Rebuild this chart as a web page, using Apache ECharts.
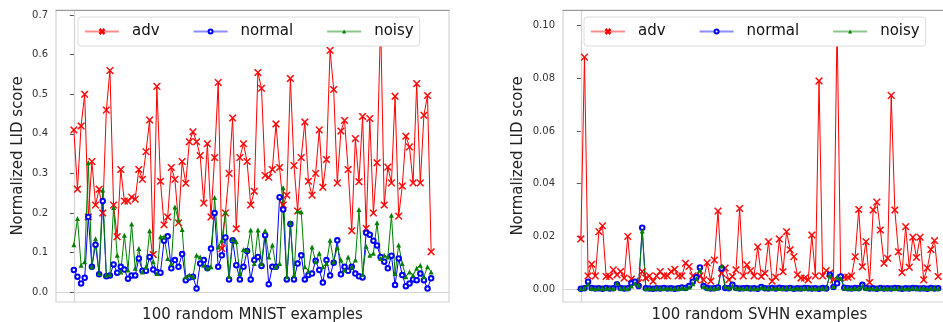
<!DOCTYPE html>
<html>
<head>
<meta charset="utf-8">
<script src="https://cdn.jsdelivr.net/npm/echarts@6/dist/echarts.min.js"></script>
<style>
  html, body { margin: 0; padding: 0; background: #fff; }
  #chart { width: 943px; height: 322px; }
</style>
</head>
<body>
<div id="chart"></div>
<script>
// LID scores for 100 random examples per dataset
const mnistAdv = [
  0.41, 0.26, 0.42, 0.50, 0.19, 0.33, 0.22, 0.26, 0.20, 0.46,
  0.56, 0.22, 0.14, 0.31, 0.23, 0.23, 0.24, 0.235, 0.31, 0.285,
  0.355, 0.435, 0.095, 0.52, 0.28, 0.17, 0.19, 0.315, 0.285, 0.175,
  0.33, 0.275, 0.38, 0.405, 0.38, 0.345, 0.225, 0.375, 0.19, 0.34,
  0.53, 0.11, 0.20, 0.30, 0.44, 0.16, 0.34, 0.375, 0.33, 0.22,
  0.255, 0.555, 0.515, 0.295, 0.29, 0.31, 0.425, 0.315, 0.22, 0.245,
  0.54, 0.32, 0.205, 0.34, 0.43, 0.28, 0.245, 0.30, 0.41, 0.265, 0.335,
  0.611, 0.512, 0.276, 0.407, 0.434, 0.31, 0.155, 0.388, 0.279, 0.444,
  0.161, 0.439, 0.2, 0.327, 0.683, 0.22, 0.316, 0.276, 0.495, 0.192,
  0.268, 0.394, 0.367, 0.276, 0.527, 0.276, 0.447, 0.497, 0.102
];
const mnistNormal = [
  0.056, 0.039, 0.022, 0.036, 0.19, 0.064, 0.12, 0.045, 0.23, 0.04,
  0.042, 0.07, 0.049, 0.064, 0.057, 0.034, 0.042, 0.042, 0.085, 0.054,
  0.054, 0.089, 0.057, 0.051, 0.049, 0.13, 0.141, 0.06, 0.081, 0.064,
  0.096, 0.03, 0.037, 0.039, 0.009, 0.072, 0.081, 0.06, 0.11, 0.2,
  0.064, 0.093, 0.138, 0.032, 0.131, 0.068, 0.032, 0.064, 0.104, 0.032,
  0.081, 0.089, 0.066, 0.144, 0.02, 0.064, 0.064, 0.24, 0.209, 0.032,
  0.172, 0.032, 0.072, 0.093, 0.032, 0.043, 0.047, 0.079, 0.056, 0.024,
  0.081, 0.042, 0.074, 0.131, 0.045, 0.064, 0.054, 0.064, 0.047, 0.04,
  0.037, 0.15, 0.145, 0.13, 0.118, 0.089, 0.077, 0.06, 0.092, 0.018,
  0.085, 0.043, 0.015, 0.022, 0.032, 0.03, 0.047, 0.03, 0.009, 0.035
];
const mnistNoisy = [
  0.12, 0.186, 0.068, 0.077, 0.327, 0.064, 0.135, 0.047, 0.258, 0.043,
  0.045, 0.214, 0.093, 0.051, 0.144, 0.056, 0.172, 0.06, 0.11, 0.051,
  0.064, 0.155, 0.077, 0.047, 0.14, 0.14, 0.085, 0.072, 0.215, 0.182,
  0.158, 0.039, 0.043, 0.039, 0.093, 0.089, 0.068, 0.06, 0.064, 0.239,
  0.114, 0.131, 0.202, 0.04, 0.133, 0.127, 0.047, 0.108, 0.106, 0.157,
  0.072, 0.157, 0.072, 0.155, 0.089, 0.119, 0.064, 0.072, 0.264, 0.039,
  0.175, 0.043, 0.205, 0.203, 0.064, 0.054, 0.114, 0.077, 0.098, 0.064,
  0.072, 0.131, 0.077, 0.113, 0.081, 0.056, 0.089, 0.064, 0.081, 0.209,
  0.045, 0.116, 0.093, 0.098, 0.175, 0.085, 0.093, 0.089, 0.194, 0.047,
  0.119, 0.072, 0.039, 0.051, 0.043, 0.06, 0.068, 0.039, 0.064, 0.051
];

const svhnAdv = [
  0.019, 0.088, 0.005, 0.0094, 0.005, 0.0218, 0.024, 0.0048, 0.0048, 0.0073,
  0.0054, 0.0067, 0.0042, 0.020, 0.0038, 0.003, 0.0025, 0.0067, 0.0042, 0.005,
  0.003, 0.005, 0.0067, 0.005, 0.005, 0.0067, 0.0075, 0.005, 0.005, 0.0098,
  0.0086, 0.005, 0.0035, 0.005, 0.0035, 0.010, 0.003, 0.011, 0.0296, 0.006,
  0.008, 0.0035, 0.0048, 0.0073, 0.0306, 0.005, 0.0092, 0.007, 0.005, 0.016,
  0.0048, 0.006, 0.018, 0.003, 0.0045, 0.019, 0.0066, 0.0218, 0.0149, 0.0123,
  0.0054, 0.0042, 0.0042, 0.0035, 0.0205, 0.005, 0.079, 0.005, 0.007, 0.006,
  0.0035, 0.101, 0.0042, 0.0045, 0.0045, 0.005, 0.0123, 0.0302, 0.0085, 0.018,
  0.0025, 0.030, 0.033, 0.0224, 0.0098, 0.0117, 0.0735, 0.030, 0.0142, 0.0063,
  0.0237, 0.0083, 0.0197, 0.012, 0.0197, 0.0035, 0.008, 0.015, 0.0184, 0.0048
];
const svhnNormal = [
  0.0001, 0.0003, 0.0028, 0.0004, 0.0002, 0.0003, 0.0001, 0.0004, 0.0002, 0.0003,
  0.0018, 0.0004, 0.0002, 0.0003, 0.0022, 0.0028, 0.0012, 0.0233, 0.0003, 0.0002,
  0.0001, 0.0003, 0.0002, 0.0004, 0.0002, 0.0003, 0.0001, 0.0003, 0.0006, 0.0004,
  0.0012, 0.0028, 0.0045, 0.0082, 0.0012, 0.0004, 0.0002, 0.0003, 0.0006, 0.0078,
  0.0004, 0.0003, 0.0016, 0.0004, 0.0002, 0.0003, 0.0004, 0.0002, 0.0003, 0.0001,
  0.0008, 0.0003, 0.0002, 0.0004, 0.0002, 0.0005, 0.0003, 0.0002, 0.0004, 0.0001,
  0.0003, 0.0002, 0.0004, 0.0003, 0.0002, 0.0003, 0.0001, 0.0004, 0.0002, 0.0054,
  0.0008, 0.0022, 0.0048, 0.0005, 0.0003, 0.0002, 0.0004, 0.0003, 0.0016, 0.0004,
  0.0002, 0.0003, 0.0001, 0.0004, 0.0002, 0.0003, 0.0002, 0.0004, 0.0003, 0.0001,
  0.0003, 0.0002, 0.0004, 0.0003, 0.0002, 0.0003, 0.0001, 0.0004, 0.0002, 0.0003
];
const svhnNoisy = [
  0.0002, 0.0004, 0.0018, 0.0003, 0.0002, 0.0004, 0.0002, 0.0003, 0.0004, 0.0002,
  0.0022, 0.0003, 0.0004, 0.0002, 0.0012, 0.0022, 0.0015, 0.022, 0.0002, 0.0003,
  0.0002, 0.0004, 0.0003, 0.0002, 0.0004, 0.0002, 0.0003, 0.0002, 0.0005, 0.0003,
  0.0008, 0.002, 0.004, 0.0072, 0.001, 0.0003, 0.0004, 0.0002, 0.0005, 0.0088,
  0.001, 0.0004, 0.0012, 0.0003, 0.0004, 0.0002, 0.0003, 0.0004, 0.0002, 0.0003,
  0.0006, 0.0004, 0.0003, 0.0002, 0.0004, 0.0003, 0.0002, 0.0004, 0.0003, 0.0002,
  0.0004, 0.0003, 0.0002, 0.0004, 0.0003, 0.0002, 0.0004, 0.0003, 0.0004, 0.0052,
  0.001, 0.0045, 0.004, 0.0004, 0.0003, 0.0002, 0.0004, 0.0003, 0.0012, 0.0003,
  0.0004, 0.0002, 0.0003, 0.0004, 0.0002, 0.0003, 0.0004, 0.0002, 0.0003, 0.0004,
  0.0002, 0.0003, 0.0004, 0.0002, 0.0003, 0.0004, 0.0002, 0.0003, 0.0004, 0.0002
];

const mnistTicks = [0, 0.1, 0.2, 0.3, 0.4, 0.5, 0.6, 0.7];
const svhnTicks = [0, 0.02, 0.04, 0.06, 0.08, 0.10];
const legendNames = ['adv', 'normal', 'noisy'];
const xNames = ['100 random MNIST examples', '100 random SVHN examples'];
const yName = 'Normalized LID score';

const FONT = 'DejaVu Sans';
const CROSS = 'path://M0,1L1,0L5,4L9,0L10,1L6,5L10,9L9,10L5,6L1,10L0,9L4,5Z';

const STYLE = {
  adv: { color: '#ff0000', symbol: CROSS, size: 7, width: 1, border: 0.6 },
  normal: { color: '#0000ff', symbol: 'emptyCircle', size: 4.5, width: 1, border: 0.9 },
  noisy: { color: '#008000', symbol: 'triangle', size: 5, width: 1, border: 0 },
};

const toPoints = (vals) => vals.map((v, i) => [i, v]);

function makeSeries(name, vals, axisIndex) {
  const s = STYLE[name];
  return {
    name,
    type: 'line',
    xAxisIndex: axisIndex * 2,
    yAxisIndex: axisIndex,
    data: toPoints(vals),
    symbol: s.symbol,
    symbolSize: s.size,
    showAllSymbol: true,
    animation: false,
    lineStyle: { color: s.color, width: s.width },
    itemStyle: { color: s.color, borderColor: s.color, borderWidth: s.border },
    emphasis: { disabled: true },
  };
}

const grids = [
  { left: 56, top: 10, width: 393, height: 292 },
  { left: 563, top: 10, width: 393, height: 292 },
];

function bottomX(gridIndex) {
  return {
    type: 'value', gridIndex, min: -4.95, max: 103.95,
    axisLine: { show: true, lineStyle: { color: '#d4d4d4', width: 1.2 } },
    axisTick: { show: false }, axisLabel: { show: false }, splitLine: { show: false },
    name: xNames[gridIndex], nameLocation: 'middle', nameGap: 6,
    nameTextStyle: { fontFamily: FONT, fontSize: 15, color: '#222', verticalAlign: 'top' },
  };
}
function topX(gridIndex) {
  return {
    type: 'value', gridIndex, position: 'top', min: -4.95, max: 103.95,
    axisLine: { show: true, lineStyle: { color: '#9a9a9a', width: 1.2 } },
    axisTick: { show: false }, axisLabel: { show: false }, splitLine: { show: false },
  };
}
function yAxis(gridIndex, min, max, ticks, digits, nameGap) {
  return {
    type: 'value', gridIndex, min, max,
    axisLine: { show: true, lineStyle: { color: '#d4d4d4', width: 1.2 } },
    axisTick: { show: true, length: 4, customValues: ticks, lineStyle: { color: '#555' } },
    axisLabel: {
      customValues: ticks, margin: 8, fontFamily: FONT, fontSize: 10, color: '#333',
      formatter: (v) => v.toFixed(digits),
    },
    splitLine: { show: false },
    name: yName, nameLocation: 'middle', nameGap,
    nameTextStyle: { fontFamily: FONT, fontSize: 15, color: '#222' },
  };
}
function legend(left) {
  return {
    data: legendNames, left, top: 17, orient: 'horizontal',
    itemWidth: 34, itemHeight: 5, itemGap: 33,
    padding: [7, 6, 7, 6],
    backgroundColor: '#fff', borderColor: '#dcdcdc', borderWidth: 1, borderRadius: 3,
    textStyle: { fontFamily: FONT, fontSize: 15, color: '#111', padding: [0, 0, 0, 8] },
    lineStyle: { opacity: 0.45 },
    selectedMode: false,
  };
}

const chart = echarts.init(document.getElementById('chart'), null, { renderer: 'canvas' });
chart.setOption({
  animation: false,
  backgroundColor: '#fff',
  grid: grids.map((g) => ({ ...g, show: true, borderColor: '#d4d4d4', borderWidth: 1.2, outerBoundsMode: 'none' })),
  xAxis: [bottomX(0), topX(0), bottomX(1), topX(1)],
  yAxis: [
    yAxis(0, -0.025, 0.713, mnistTicks, 1, 30),
    yAxis(1, -0.0049, 0.1059, svhnTicks, 2, 37),
  ],
  legend: [legend(78), legend(584)],
  series: [
    makeSeries('adv', mnistAdv, 0),
    makeSeries('normal', mnistNormal, 0),
    makeSeries('noisy', mnistNoisy, 0),
    makeSeries('adv', svhnAdv, 1),
    makeSeries('normal', svhnNormal, 1),
    makeSeries('noisy', svhnNoisy, 1),
  ],
});
</script>
</body>
</html>
